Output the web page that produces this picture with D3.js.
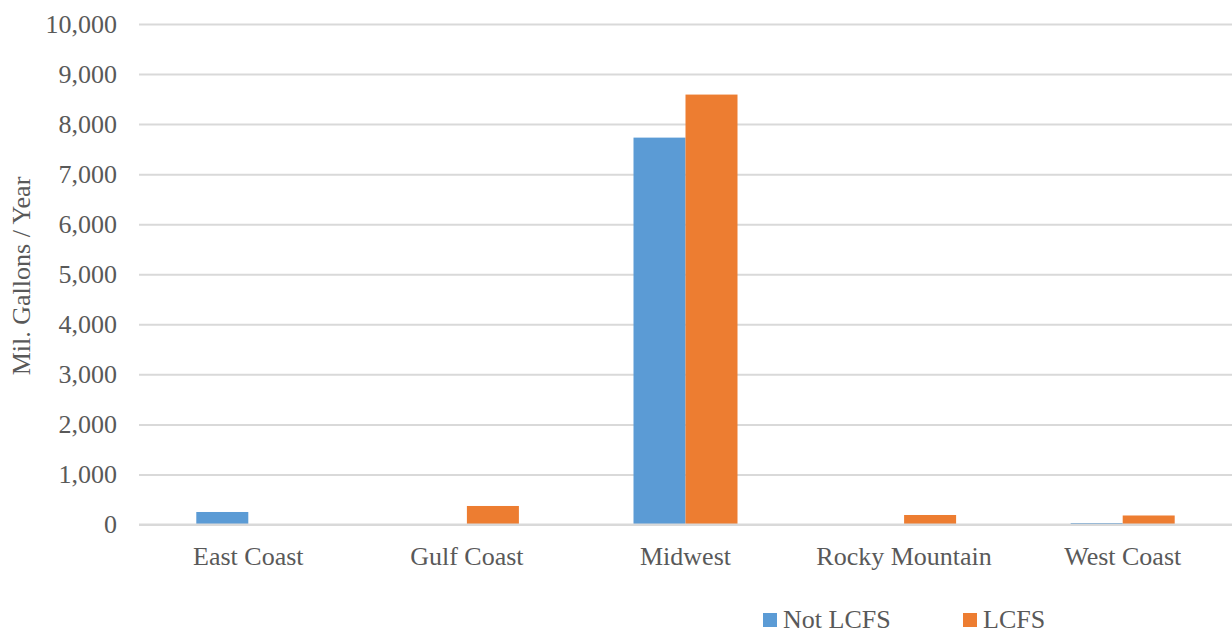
<!DOCTYPE html>
<html><head><meta charset="utf-8">
<script src="https://cdn.jsdelivr.net/npm/d3@7"></script>
<style>body{margin:0;background:#fff}svg{display:block}svg text{font-family:"Liberation Serif","Times New Roman",serif}</style>
</head><body>
<svg id="c" width="1232" height="634"></svg>
<script>
const categories = ["East Coast","Gulf Coast","Midwest","Rocky Mountain","West Coast"];
const seriesNames = ["Not LCFS","LCFS"];
const notLCFS = [250, 0, 7730, 0, 30];
const lcfs = [0, 370, 8590, 190, 180];
const yTicks = [0,1000,2000,3000,4000,5000,6000,7000,8000,9000,10000];
const colors = ["#5B9BD5","#ED7D31"];

const svg = d3.select("#c");
const font = "Liberation Serif, Times New Roman, serif";
const textColor = "#595959";
const plotLeft = 139, plotRight = 1232, plotTop = 24, plotBottom = 524.5;

const x = d3.scaleBand().domain(categories).range([plotLeft, plotRight]).paddingInner(0).paddingOuter(0);
const y = d3.scaleLinear().domain([0,10000]).range([plotBottom, plotTop]);
const barW = 52;
const x1 = d3.scaleBand().domain(seriesNames).range([0, barW*2]);

// gridlines
const yAxis = d3.axisLeft(y).tickValues(yTicks).tickSize(-(plotRight-plotLeft)).tickPadding(22)
  .tickFormat(d3.format(","));
const g = svg.append("g").attr("transform", `translate(${plotLeft},0)`).call(yAxis)
  .attr("font-family", font).attr("font-size", 26);
g.select(".domain").remove();
g.selectAll(".tick line").attr("stroke","#d9d9d9").attr("stroke-width",2);
g.selectAll(".tick text").attr("fill",textColor);

// bars
const data = categories.map((c,i)=>({c, vals:[notLCFS[i], lcfs[i]]}));
const groups = svg.append("g").selectAll("g").data(data).join("g")
  .attr("transform", d => `translate(${x(d.c) + x.bandwidth()/2 - barW},0)`);
groups.selectAll("rect").data(d => d.vals.map((v,j)=>({v, s:seriesNames[j], j})))
  .join("rect")
  .attr("x", d => x1(d.s))
  .attr("width", x1.bandwidth())
  .attr("y", d => y(d.v))
  .attr("height", d => y(0) - y(d.v))
  .attr("fill", d => colors[d.j]);

// zero line redraw on top
svg.append("line").attr("x1",plotLeft).attr("x2",plotRight).attr("y1",y(0)).attr("y2",y(0))
  .attr("stroke","#d9d9d9").attr("stroke-width",2);

// x axis labels
const xAxis = d3.axisBottom(x).tickSize(0).tickPadding(22);
const gx = svg.append("g").attr("transform", `translate(0,${plotBottom})`).call(xAxis)
  .attr("font-family", font).attr("font-size", 26);
gx.select(".domain").remove();
gx.selectAll(".tick text").attr("fill",textColor);

// y title
svg.append("text").attr("transform","translate(30,276) rotate(-90)")
  .attr("text-anchor","middle").attr("fill",textColor)
  .attr("font-family",font).attr("font-size",26).text("Mil. Gallons / Year");

// legend
const legX = [763, 963];
const leg = svg.append("g").selectAll("g").data(seriesNames).join("g")
  .attr("transform",(d,i)=>`translate(${legX[i]},613)`);
leg.append("rect").attr("width",14).attr("height",14).attr("fill",(d,i)=>colors[i]);
leg.append("text").attr("x",20).attr("y",15).attr("fill",textColor)
  .attr("font-family",font).attr("font-size",26).text(d=>d);
</script>
</body></html>
